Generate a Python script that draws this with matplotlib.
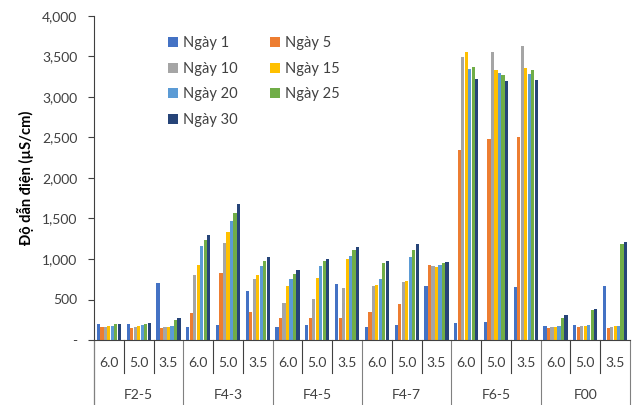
import matplotlib
matplotlib.use('Agg')
import matplotlib.pyplot as plt
import matplotlib.transforms as mtransforms
import numpy as np

plt.rcParams['font.family'] = ['Lato', 'DejaVu Sans']

# ----------------------- #
# Data
# ----------------------- #
formulas = ['F2-5', 'F4-3', 'F4-5', 'F4-7', 'F6-5', 'F00']
ph_labels = ['6.0', '5.0', '3.5']
series_names = ['Ngày 1', 'Ngày 5', 'Ngày 10', 'Ngày 15', 'Ngày 20', 'Ngày 25', 'Ngày 30']
colors = ['#4472C4', '#ED7D31', '#A5A5A5', '#FFC000', '#5B9BD5', '#70AD47', '#264478']

# one list per day, 18 values (formula x pH, in display order)
ngay1 = [200, 195, 707, 165, 185, 605, 160, 185, 687, 160, 185, 663, 210, 222, 654, 173, 185, 663]
ngay5 = [155, 150, 150, 337, 823, 346, 267, 267, 276, 346, 444, 926, 2346, 2477, 2502, 148, 160, 148]
ngay10 = [165, 165, 165, 802, 1198, 753, 453, 510, 642, 667, 720, 918, 3498, 3556, 3630, 160, 173, 160]
ngay15 = [175, 175, 165, 926, 1337, 798, 663, 770, 1000, 683, 728, 901, 3556, 3333, 3358, 160, 173, 173]
ngay20 = [175, 185, 177, 1164, 1465, 918, 753, 918, 1037, 753, 1021, 926, 3346, 3300, 3288, 173, 185, 173]
ngay25 = [195, 195, 243, 1235, 1568, 975, 815, 975, 1107, 951, 1115, 951, 3370, 3276, 3333, 276, 370, 1185]
ngay30 = [198, 205, 271, 1292, 1675, 1025, 860, 1000, 1148, 975, 1185, 963, 3222, 3198, 3210, 305, 383, 1210]
all_series = [ngay1, ngay5, ngay10, ngay15, ngay20, ngay25, ngay30]

y_ticks = [0, 500, 1000, 1500, 2000, 2500, 3000, 3500, 4000]

# ----------------------- #
# Figure
# ----------------------- #
W, H = 637, 405
fig = plt.figure(figsize=(W / 100, H / 100), dpi=100)
ax = fig.add_axes([94 / W, 65 / H, 536 / W, 324 / H])

n_groups = len(formulas) * len(ph_labels)
x = np.arange(n_groups)
bar_w = 0.82 / len(all_series)
for k, (vals, name, c) in enumerate(zip(all_series, series_names, colors)):
    offs = (k - (len(all_series) - 1) / 2) * bar_w
    ax.bar(x + offs, vals, width=bar_w * 0.92, color=c, label=name)

ax.set_xlim(-0.5, n_groups - 0.5)
ax.set_ylim(0, 4000)
ax.set_yticks(y_ticks)
ax.set_yticklabels(['-'] + ['{:,}'.format(v) for v in y_ticks[1:]], fontsize=10, color='#404040')
ax.tick_params(axis='y', direction='out', length=4, width=0.8, color='#404040', pad=8)
ax.set_xticks([])
for s in ['top', 'right']:
    ax.spines[s].set_visible(False)
ax.spines['left'].set_color('#404040')
ax.spines['bottom'].set_color('#404040')

ax.set_ylabel('Độ dẫn điện (µS/cm)', fontsize=10.5, fontweight='bold', labelpad=6)

# multi-level category axis
trans = mtransforms.blended_transform_factory(ax.transData, ax.transAxes)
ax.plot([-0.5, -0.5], [0, -0.21], transform=trans, color='#404040', lw=0.8, clip_on=False)
for i in range(n_groups + 1):
    xb = i - 0.5
    if i % 3 == 0:
        ax.plot([xb, xb], [0, -0.21], transform=trans, color='#808080', lw=0.8, clip_on=False)
    else:
        ax.plot([xb, xb], [0, -0.102], transform=trans, color='#404040', lw=0.8, clip_on=False)
for i in range(n_groups):
    ax.text(i, -0.071, ph_labels[i % 3], transform=trans, ha='center', va='center',
            fontsize=10, color='#404040')
for g, name in enumerate(formulas):
    ax.text(g * 3 + 1, -0.17, name, transform=trans, ha='center', va='center',
            fontsize=10, color='#404040')

# legend, filled row-wise like the original
handles, labels = ax.get_legend_handles_labels()
order = [0, 2, 4, 6, 1, 3, 5]
ax.legend([handles[i] for i in order], [labels[i] for i in order], ncol=2,
          loc='upper left', bbox_to_anchor=(155 / W, 1 - 23 / H), bbox_transform=fig.transFigure,
          frameon=False, fontsize=10.5, handlelength=0.7, handleheight=0.7,
          handletextpad=0.35, labelspacing=0.8, columnspacing=2.2, labelcolor='#404040')

plt.savefig('out.png', dpi=100)
